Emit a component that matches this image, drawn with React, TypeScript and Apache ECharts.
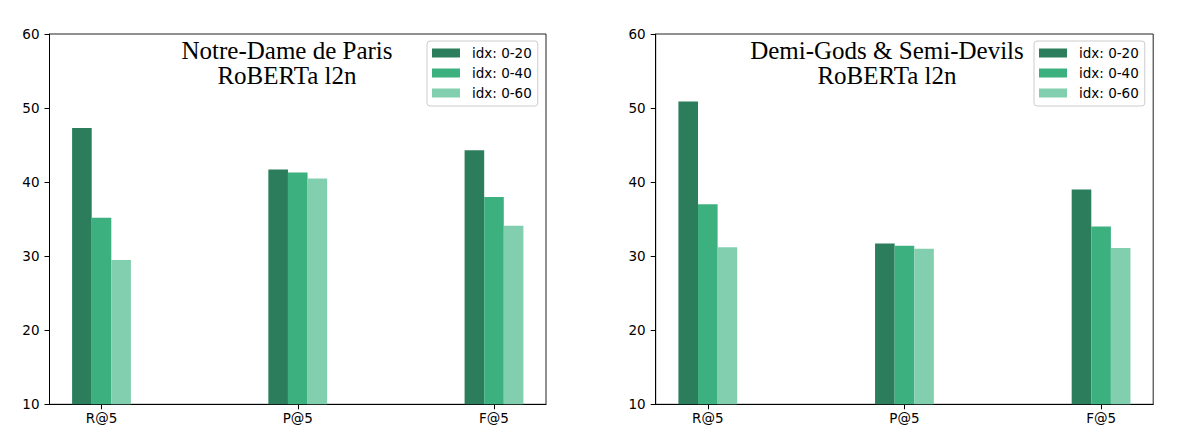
import React, { useEffect, useRef } from "react";
import * as echarts from "echarts";

const categories = ["R@5", "P@5", "F@5"];
const seriesNames = ["idx: 0-20", "idx: 0-40", "idx: 0-60"];
const seriesColors = ["#2b7d5c", "#3cb17f", "#82cfaf"];

const notreDame20 = [47.3, 41.7, 44.3];
const notreDame40 = [35.2, 41.3, 38.0];
const notreDame60 = [29.5, 40.5, 34.1];

const demiGods20 = [50.9, 31.7, 39.0];
const demiGods40 = [37.0, 31.4, 34.0];
const demiGods60 = [31.2, 31.0, 31.1];

const leftTitle = ["Notre-Dame de Paris", "RoBERTa l2n"];
const rightTitle = ["Demi-Gods & Semi-Devils", "RoBERTa l2n"];

const yMin = 10;
const yMax = 60;
const yInterval = 10;

const TICK_FONT = "DejaVu Sans";

function buildOption() {
  const grids = [
    { left: 49.5, top: 34, width: 496.5, height: 370.3 },
    { left: 655.7, top: 34, width: 497.5, height: 370.3 },
  ].map((g) => ({
    ...g,
    show: true,
    borderColor: "#222",
    borderWidth: 1,
    backgroundColor: "transparent",
    containLabel: false,
  }));

  const xAxes = [0, 1].map((i) => ({
    type: "value",
    gridIndex: i,
    min: -0.265,
    max: 2.265,
    splitLine: { show: false },
    axisLine: { show: true, onZero: false, lineStyle: { color: "#000", width: 1 } },
    axisTick: {
      show: true,
      customValues: [0, 1, 2],
      length: 5,
      lineStyle: { color: "#000" },
    },
    axisLabel: {
      show: true,
      customValues: [0, 1, 2],
      formatter: (v: number) => categories[Math.round(v)] ?? "",
      fontFamily: TICK_FONT,
      fontSize: 13.5,
      color: "#000",
      margin: 7,
    },
  }));

  const yAxes = [0, 1].map((i) => ({
    type: "value",
    gridIndex: i,
    min: yMin,
    max: yMax,
    interval: yInterval,
    splitLine: { show: false },
    axisLine: { show: true, onZero: false, lineStyle: { color: "#000", width: 1 } },
    axisTick: { show: true, length: 5, lineStyle: { color: "#000" } },
    axisLabel: {
      fontFamily: TICK_FONT,
      fontSize: 13.5,
      color: "#000",
      margin: 10,
    },
  }));

  const groups = [
    [notreDame20, notreDame40, notreDame60],
    [demiGods20, demiGods40, demiGods60],
  ];

  const series: any[] = [];
  groups.forEach((grp, gi) => {
    grp.forEach((vals, si) => {
      series.push({
        type: "bar",
        name: seriesNames[si],
        xAxisIndex: gi,
        yAxisIndex: gi,
        barWidth: 19.6,
        barGap: "0%",
        itemStyle: { color: seriesColors[si] },
        data: vals.map((v, ci) => [ci, v]),
      });
    });
  });

  const legendBase = {
    orient: "vertical",
    top: 41,
    data: seriesNames,
    icon: "rect",
    itemWidth: 28,
    itemHeight: 9,
    itemGap: 6,
    padding: [5, 6, 6, 5],
    borderColor: "#cccccc",
    borderWidth: 1,
    borderRadius: 3,
    backgroundColor: "rgba(255,255,255,0.8)",
    selectedMode: false,
    textStyle: {
      fontFamily: TICK_FONT,
      fontSize: 13.5,
      color: "#000",
      lineHeight: 14,
      padding: [0, 0, 0, 7],
    },
  };

  const titleText = (lines: string[], cx: number) =>
    lines.map((t, li) => ({
      type: "text",
      x: cx,
      y: li === 0 ? 50 : 75.7,
      silent: true,
      style: {
        text: t,
        font: '25px "Liberation Serif", "Times New Roman", serif',
        fill: "#000",
        textAlign: "center",
        textVerticalAlign: "middle",
      },
    }));

  return {
    animation: false,
    backgroundColor: "#fff",
    grid: grids,
    xAxis: xAxes,
    yAxis: yAxes,
    legend: [
      { ...legendBase, left: 427 },
      { ...legendBase, left: 1034 },
    ],
    graphic: [...titleText(leftTitle, 287), ...titleText(rightTitle, 887)],
    series,
  };
}

export default function App() {
  const ref = useRef<HTMLDivElement | null>(null);

  useEffect(() => {
    if (!ref.current) return;
    const chart = echarts.init(ref.current, undefined, { renderer: "svg" });
    chart.setOption(buildOption() as any);
    return () => {
      chart.dispose();
    };
  }, []);

  return (
    <div
      ref={ref}
      style={{
        position: "fixed",
        left: 0,
        top: 0,
        width: 1181,
        height: 434,
        background: "#fff",
      }}
    />
  );
}
